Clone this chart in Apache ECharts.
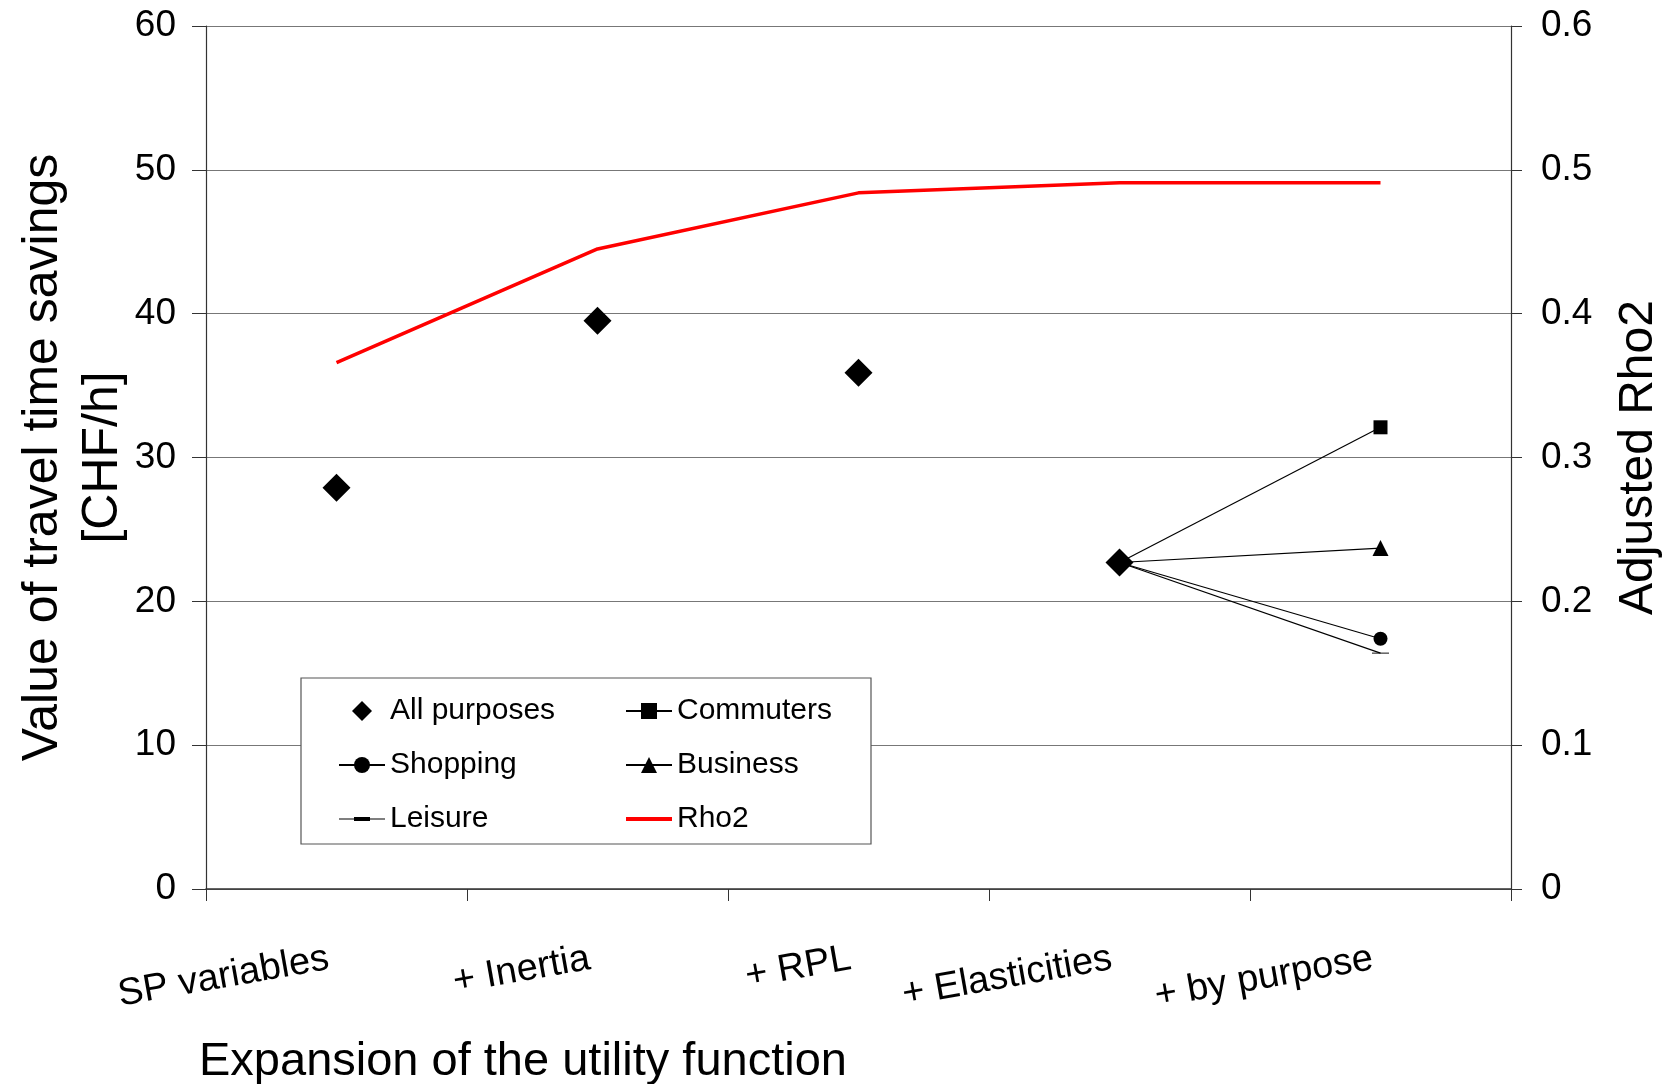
<!DOCTYPE html>
<html>
<head>
<meta charset="utf-8">
<script src="https://cdn.jsdelivr.net/npm/echarts@6/dist/echarts.min.js"></script>
<style>html,body{margin:0;padding:0;background:#fff}#c{width:1669px;height:1084px}</style>
</head>
<body>
<div id="c"></div>
<script>
const categories = ['SP variables', '+ Inertia', '+ RPL', '+ Elasticities', '+ by purpose'];
const allPurposes = [27.9, 39.5, 35.9, 22.7, null];
const rho2 = [0.366, 0.445, 0.484, 0.491, 0.491];
const commuters = [null, null, null, 22.7, 32.1];
const business = [null, null, null, 22.7, 23.7];
const shopping = [null, null, null, 22.7, 17.4];
const leisure = [null, null, null, 22.7, 16.4];

const FONT = 'Liberation Sans, Arial, sans-serif';

function purposeData(arr) {
  return arr.map((v, i) => {
    if (v == null) return '-';
    if (i === 3) return { value: v, symbol: 'none' };
    return v;
  });
}
function purposeSeries(name, arr, symbol, size) {
  return {
    name: name, type: 'line', yAxisIndex: 0, data: purposeData(arr),
    symbol: symbol, symbolSize: size, symbolKeepAspect: true, showAllSymbol: true, connectNulls: false,
    lineStyle: { color: '#000', width: 1.2 },
    itemStyle: { color: '#000', opacity: 1 }, z: 2, animation: false
  };
}

const chart = echarts.init(document.getElementById('c'));
chart.setOption({
  animation: false,
  backgroundColor: '#fff',
  textStyle: { fontFamily: FONT },
  grid: { left: 206, right: 158, top: 26, bottom: 195, containLabel: false, outerBoundsMode: 'none' },
  xAxis: {
    type: 'category', data: categories, boundaryGap: true,
    axisLine: { lineStyle: { color: '#333', width: 1.5 } },
    axisTick: { show: true, length: 12, lineStyle: { color: '#333' } },
    axisLabel: { rotate: 10, fontSize: 38, color: '#000', margin: 68, interval: 0, fontFamily: FONT,
      padding: [0, 8, 0, 0] }
  },
  yAxis: [{
    type: 'value', min: 0, max: 60, interval: 10, position: 'left',
    name: 'Value of travel time savings\n[CHF/h]', nameLocation: 'middle', nameRotate: 90, nameGap: 73,
    nameMoveOverlap: false,
    nameTextStyle: { fontSize: 50, lineHeight: 60, color: '#000', fontFamily: FONT },
    axisLine: { show: true, lineStyle: { color: '#333', width: 1.2 } },
    axisTick: { show: true, length: 14, lineStyle: { color: '#333' } },
    axisLabel: { fontSize: 37, color: '#000', margin: 30, fontFamily: FONT },
    splitLine: { show: true, lineStyle: { color: '#777', width: 1.2 } }
  }, {
    type: 'value', min: 0, max: 0.6, interval: 0.1, position: 'right',
    name: 'Adjusted Rho2', nameLocation: 'middle', nameRotate: 90, nameGap: 104,
    nameTextStyle: { fontSize: 48, color: '#000', fontFamily: FONT },
    axisLine: { show: true, lineStyle: { color: '#333', width: 1.2 } },
    axisTick: { show: true, length: 11, lineStyle: { color: '#333' } },
    axisLabel: { fontSize: 37, color: '#000', margin: 30, fontFamily: FONT,
      formatter: v => v === 0 ? '0' : v.toFixed(1) },
    splitLine: { show: false }
  }],
  legend: [{
    orient: 'vertical', left: 333, top: 691, itemWidth: 46, itemHeight: 20, itemGap: 24,
    symbolKeepAspect: true,
    textStyle: { fontSize: 30, color: '#000', lineHeight: 30, fontFamily: FONT },
    data: [
      { name: 'All purposes', icon: 'path://M10,0L20,10L10,20L0,10Z' },
      'Shopping',
      { name: 'Leisure', icon: 'path://M0,1.4H46V2.6H0Z M15,0H31V4H15Z' }
    ], z: 10
  }, {
    orient: 'vertical', left: 620, top: 691, itemWidth: 46, itemHeight: 20, itemGap: 24,
    symbolKeepAspect: true,
    textStyle: { fontSize: 30, color: '#000', lineHeight: 30, fontFamily: FONT },
    data: ['Commuters', 'Business', { name: 'Rho2', icon: 'path://M0,0H46V4H0Z' }], z: 10
  }],
  graphic: [{
    type: 'rect', z: 5, shape: { x: 301, y: 678, width: 570, height: 166 },
    style: { fill: '#fff', stroke: '#555', lineWidth: 1.2 }
  }, {
    type: 'text', z: 5, x: 199, y: 1062,
    style: { text: 'Expansion of the utility function', font: '47px ' + FONT, fill: '#000',
      textAlign: 'left', textVerticalAlign: 'middle' }
  }],
  series: [
    purposeSeries('Commuters', commuters, 'rect', 14),
    purposeSeries('Shopping', shopping, 'circle', 14),
    purposeSeries('Business', business, 'triangle', 16),
    purposeSeries('Leisure', leisure, 'path://M0,0H17V4H0Z', [17, 4]),
    {
      name: 'Rho2', type: 'line', yAxisIndex: 1, data: rho2, symbol: 'none',
      lineStyle: { color: '#ff0000', width: 3.5 }, itemStyle: { color: '#ff0000' }, z: 3
    },
    {
      name: 'All purposes', type: 'scatter', yAxisIndex: 0,
      data: allPurposes.map(v => v == null ? '-' : v), symbolKeepAspect: true,
      symbol: 'diamond', symbolSize: 28, itemStyle: { color: '#000', opacity: 1 }, z: 6
    }
  ]
});
</script>
</body>
</html>
